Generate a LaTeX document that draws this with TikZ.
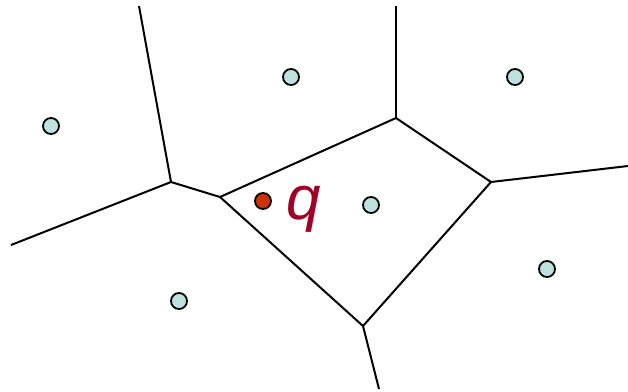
\documentclass[tikz,border=0pt]{standalone}
\usepackage{fontspec}
\setmainfont{Liberation Sans}
\usepackage{xcolor}
\definecolor{sitefill}{HTML}{BCE2E2}
\definecolor{qfill}{HTML}{CC3300}
\definecolor{qtext}{HTML}{A00028}
\tikzset{
  site/.style={circle, draw=black, line width=1.8pt, inner sep=0pt, minimum size=16pt, fill=sitefill},
  edge/.style={line width=2pt}
}

\begin{document}
\begin{tikzpicture}[x=1pt,y=-1pt]
\useasboundingbox (0,0) rectangle (628,391);

% Voronoi vertices
\coordinate (A) at (171,182);
\coordinate (B) at (220,197);
\coordinate (C) at (396,118);
\coordinate (D) at (491,182);
\coordinate (E) at (363,326);
% ends of the unbounded edges
\coordinate (At) at (139,6);
\coordinate (Al) at (11,245);
\coordinate (Ct) at (396,6);
\coordinate (Dr) at (628,166);
\coordinate (Eb) at (379,389);

\draw[edge] (At) -- (A) -- (Al);
\draw[edge] (A) -- (B);
\draw[edge, line join=round] (B) -- (C) -- (D) -- (E) -- cycle;
\draw[edge] (C) -- (Ct);
\draw[edge] (D) -- (Dr);
\draw[edge] (E) -- (Eb);

% sites
\foreach \p/\n in {(51,126)/s1,(291,77)/s2,(515,77)/s3,(371,205)/s4,(547,269)/s5,(179,301)/s6} {
    \node[site] (\n) at \p {};
}

\node[site, fill=qfill] (q) at (263,201) {};
\node[text=qtext, font=\fontsize{62}{62}\selectfont\itshape, anchor=west, inner sep=0pt] (ql) at (286,209) {q};
\end{tikzpicture}
\end{document}
